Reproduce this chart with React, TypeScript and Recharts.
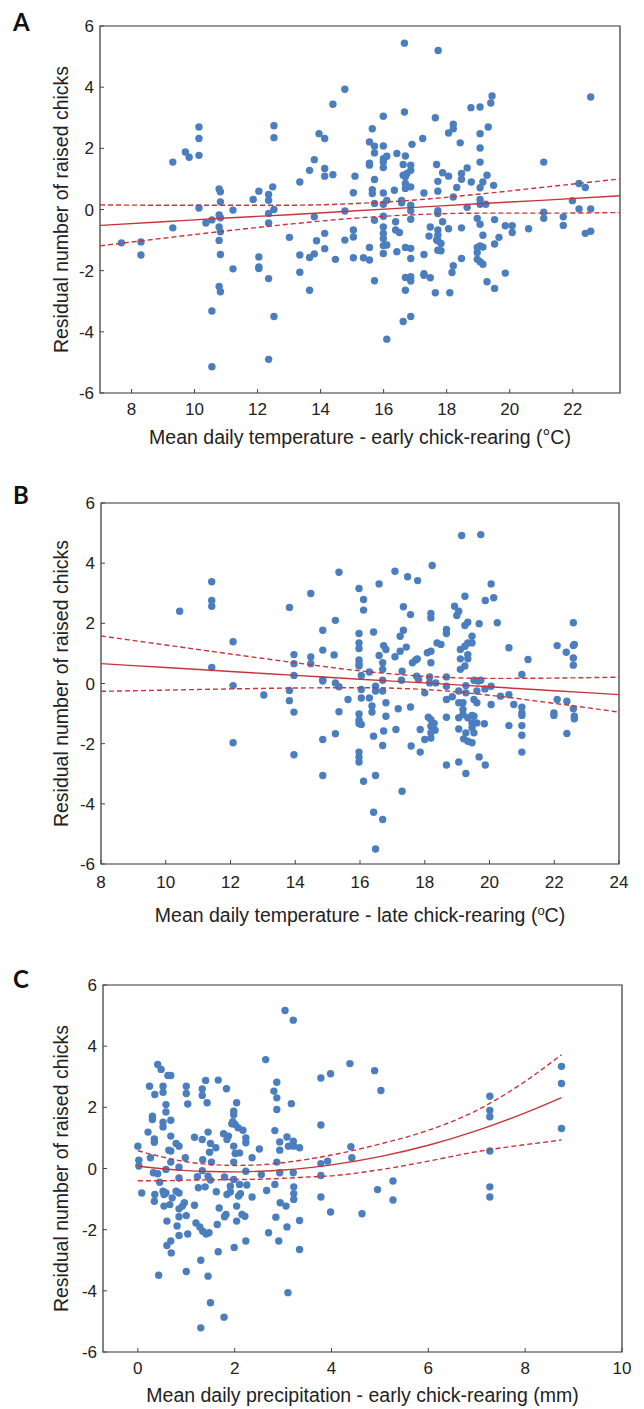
import React from "react";
import { ScatterChart, Scatter, XAxis, YAxis, ReferenceArea, Label } from "recharts";

const DOT = "#4a7ebf";
const RED = "#c9343b";
const INK = "#222";
const FONT = "'Liberation Sans', Arial, sans-serif";

const yTicks = [-6, -4, -2, 0, 2, 4, 6];
const earlyTempTicks = [8, 10, 12, 14, 16, 18, 20, 22];
const lateTempTicks = [8, 10, 12, 14, 16, 18, 20, 22, 24];
const precipTicks = [0, 2, 4, 6, 8, 10];

// panel A: mean daily temperature, early chick-rearing
const earlyTempPoints: [number, number][] = [
  [7.68, -1.09], [8.3, -1.06], [8.3, -1.49], [9.31, 1.55], [9.31, -0.6], [9.71, 1.88], [9.83, 1.71],
  [10.14, 2.7], [10.14, 2.32], [10.14, 1.77], [10.14, 0.05], [10.36, -0.44], [10.55, -0.34], [10.55, -3.32],
  [10.55, -5.14], [10.78, 0.67], [10.82, 0.58], [10.82, 0.25], [10.78, -0.18], [10.82, -0.27], [10.78, -0.57],
  [10.82, -0.73], [10.78, -1.01], [10.82, -1.47], [10.78, -2.52], [10.82, -2.69], [11.22, -0.02], [11.22, -1.94],
  [11.86, 0.33], [12.04, 0.6], [12.04, -1.55], [12.04, -1.88], [12.04, -1.93], [12.35, 0.49], [12.35, 0.3],
  [12.35, -0.13], [12.35, -0.44], [12.35, -2.26], [12.35, -4.9], [12.48, 0.74], [12.52, 2.74], [12.52, 2.35],
  [12.52, 0], [12.52, -3.5], [13.01, -0.91], [13.34, 0.9], [13.34, -1.49], [13.34, -2.05], [13.65, 1.28],
  [13.65, -1.57], [13.65, -2.64], [13.8, 1.63], [13.8, -0.24], [13.8, -1.45], [13.87, -1.02], [13.95, 2.48],
  [14.13, 2.32], [14.13, 1.34], [14.13, 1.09], [14.13, -0.78], [14.13, -1.28], [14.39, 1.14], [14.39, 3.44],
  [14.47, -1.63], [14.77, 3.93], [14.77, -0.05], [14.77, -1.0], [15.04, 0.55], [15.04, -0.67], [15.04, -0.9],
  [15.04, -1.58], [15.09, 1.09], [15.36, -1.58], [15.55, 2.21], [15.55, 1.51], [15.55, 1.45], [15.55, -1.24],
  [15.55, -1.65], [15.64, 2.64], [15.64, 0.65], [15.64, 0.52], [15.71, 0.98], [15.71, 2.07], [15.71, 1.85],
  [15.71, 0.2], [15.71, -0.35], [15.71, -2.33], [15.99, 3.05], [15.99, 2.08], [15.99, 1.66], [15.99, 1.55],
  [15.99, 1.37], [15.99, 0.54], [15.99, 0.17], [15.99, -0.22], [15.99, -0.57], [15.99, -0.78], [15.99, -0.95],
  [15.99, -1.18], [15.99, -1.44], [16.1, 1.74], [16.1, 0.3], [16.1, -1.16], [16.1, -4.24], [16.34, 0.63],
  [16.38, -0.4], [16.38, -0.67], [16.42, 1.83], [16.42, -1.38], [16.5, -0.75], [16.57, 0.3], [16.57, 0.22],
  [16.62, 1.47], [16.62, 1.12], [16.62, -3.66], [16.66, 5.44], [16.66, 3.19], [16.69, 1.75], [16.69, 1.07],
  [16.69, 0.85], [16.69, 0.69], [16.69, -1.24], [16.69, -2.22], [16.69, -2.64], [16.74, 1.18], [16.86, 0.74],
  [16.86, 1.45], [16.86, 1.28], [16.86, 0.14], [16.86, -0.04], [16.86, -0.32], [16.86, -1.27], [16.86, -1.6],
  [16.86, -2.2], [16.86, -2.34], [16.86, -3.5], [16.9, 2.13], [17.24, 2.32], [17.28, 0.54], [17.28, -1.47],
  [17.28, -2.1], [17.28, -2.15], [17.44, -0.87], [17.48, -0.57], [17.48, -2.23], [17.64, 3.0], [17.68, 1.47],
  [17.68, -1.0], [17.64, -2.72], [17.72, 0.92], [17.72, 0.6], [17.72, -0.04], [17.72, -0.13], [17.72, -0.67],
  [17.72, -0.84], [17.72, -1.02], [17.72, -1.33], [17.73, 5.2], [17.82, -1.11], [17.82, -1.35], [17.87, 1.2],
  [17.87, -0.4], [18.06, 2.5], [18.06, 1.09], [18.06, -0.63], [18.1, -2.72], [18.21, 2.79], [18.21, 2.64],
  [18.21, 0.41], [18.21, -1.84], [18.17, -2.06], [18.32, 0.72], [18.43, 2.18], [18.47, 1.18], [18.47, 0.99],
  [18.47, -0.6], [18.47, -1.6], [18.65, 1.36], [18.65, 0.07], [18.77, 3.33], [18.78, 0.9], [19.06, 3.35],
  [19.06, 2.48], [19.06, 2.01], [19.06, 1.55], [19.06, 0.71], [19.06, 0.33], [19.06, 0.17], [18.97, -0.29],
  [18.97, -1.24], [18.97, -1.41], [18.97, -1.63], [19.06, -0.48], [19.06, -1.19], [19.06, -1.71], [19.15, 0.9],
  [19.15, -0.84], [19.15, -1.23], [19.15, -1.79], [19.24, 0.17], [19.28, 1.12], [19.28, -2.36], [19.32, 2.7],
  [19.4, 3.48], [19.44, 3.71], [19.49, 0.79], [19.52, -0.33], [19.52, -1.13], [19.52, -2.58], [19.66, -0.91],
  [19.86, -2.08], [19.86, -0.53], [20.08, -0.53], [20.08, -0.75], [20.6, -0.63], [21.08, 1.55], [21.08, -0.09],
  [21.08, -0.29], [21.7, -0.24], [21.7, -0.52], [21.99, 0.29], [22.2, 0.85], [22.2, 0.02], [22.4, 0.72],
  [22.4, -0.78], [22.57, 3.68], [22.57, 0.02], [22.57, -0.71],
];
const earlyTempFitX = [7, 9, 11, 13, 15, 17, 19, 21, 23.5];
const earlyTempFit = [-0.52, -0.4, -0.28, -0.17, -0.05, 0.07, 0.19, 0.3, 0.45];
const earlyTempUpper = [0.15, 0.14, 0.14, 0.14, 0.19, 0.31, 0.5, 0.72, 1.0];
const earlyTempLower = [-1.19, -0.94, -0.7, -0.48, -0.29, -0.17, -0.12, -0.12, -0.1];

// panel B: mean daily temperature, late chick-rearing
const lateTempPoints: [number, number][] = [
  [10.43, 2.4], [11.42, 3.38], [11.42, 2.76], [11.42, 2.57], [11.42, 0.53], [12.08, 1.39], [12.08, -0.07],
  [12.08, -1.97], [13.03, -0.38], [13.82, 2.53], [13.82, -0.23], [13.82, -0.57], [13.96, 0.96], [13.96, 0.66],
  [13.96, 0.27], [13.96, -0.95], [13.96, -2.37], [14.48, 2.99], [14.48, 0.88], [14.48, 0.66], [14.85, 1.77],
  [14.85, 1.11], [14.85, 0.13], [14.85, 0.08], [14.85, -1.86], [14.85, -3.06], [15.2, 0.95], [15.24, 2.1],
  [15.24, 0.02], [15.24, -1.67], [15.35, 3.7], [15.35, -0.11], [15.35, -0.94], [15.63, -0.53], [15.97, 3.16],
  [15.97, 1.66], [15.97, 1.35], [15.97, 1.16], [15.97, 0.78], [15.97, 0.66], [15.97, 0.58], [15.97, -1.01],
  [15.97, -1.22], [15.97, -1.33], [15.97, -2.28], [15.97, -2.44], [15.97, -2.61], [16.04, 0.27], [16.04, -0.2],
  [16.04, -0.48], [16.11, 2.79], [16.11, 2.44], [16.11, -3.25], [16.04, -1.36], [16.29, 0.38], [16.29, -0.48],
  [16.37, -0.95], [16.37, -0.75], [16.42, 1.71], [16.42, -1.75], [16.42, -4.28], [16.48, -0.09], [16.48, -0.25],
  [16.48, -3.06], [16.48, -5.5], [16.59, 3.31], [16.59, 0.93], [16.7, 0.69], [16.7, 0.47], [16.7, 0.11],
  [16.7, -0.25], [16.7, -2.06], [16.7, -4.52], [16.73, 1.26], [16.73, -1.58], [16.8, 1.13], [16.8, -0.64],
  [16.8, -1.09], [17.08, 0.89], [17.08, 3.73], [17.11, -1.53], [17.18, -0.84], [17.24, 1.07], [17.24, 1.57],
  [17.28, 0.11], [17.3, 0.41], [17.3, -3.58], [17.34, 2.55], [17.34, 1.77], [17.43, 1.21], [17.47, 3.55],
  [17.56, 2.29], [17.56, -0.78], [17.58, -2.08], [17.62, 0.69], [17.72, 0.78], [17.77, 0.82], [17.78, 3.42],
  [17.75, 0.24], [17.81, 0.13], [17.86, -2.28], [17.86, -1.53], [18.0, -0.31], [18.0, -1.86], [18.08, 1.02],
  [18.11, -1.12], [18.15, 0.22], [18.15, 0.02], [18.19, 2.33], [18.19, 2.18], [18.19, 1.07], [18.19, 0.69],
  [18.19, -1.2], [18.19, -1.42], [18.19, -1.64], [18.19, -1.81], [18.23, 3.92], [18.29, -1.33], [18.32, -1.55],
  [18.34, 0.02], [18.38, 1.35], [18.5, 1.3], [18.67, 1.8], [18.67, 1.66], [18.67, 0.22], [18.67, -0.09],
  [18.67, -0.53], [18.67, -1.12], [18.67, -2.71], [18.85, -0.44], [18.92, 2.57], [18.99, 2.26], [19.05, 2.4],
  [19.05, -0.25], [19.05, -0.64], [19.05, -1.14], [19.05, -1.51], [19.05, -2.61], [19.1, 1.13], [19.1, 0.82],
  [19.1, 0.47], [19.14, 4.92], [19.18, -0.64], [19.18, -0.86], [19.18, -1.03], [19.2, -1.84], [19.24, 2.9],
  [19.24, 1.93], [19.24, 1.24], [19.24, 0.58], [19.27, -0.07], [19.27, -0.31], [19.27, -1.64], [19.27, -2.99],
  [19.33, 2.04], [19.33, 1.35], [19.33, 0.96], [19.33, 0.82], [19.33, -1.14], [19.33, -1.92], [19.46, 1.57],
  [19.46, 1.35], [19.46, -1.06], [19.46, -1.31], [19.46, -1.47], [19.46, -1.97], [19.52, 0.11], [19.52, -0.53],
  [19.52, -1.09], [19.52, -1.64], [19.61, -0.25], [19.61, -0.64], [19.61, -1.31], [19.65, 0.08], [19.68, 1.99],
  [19.68, -2.44], [19.73, 4.95], [19.73, 0.11], [19.84, -1.34], [19.86, -0.18], [19.87, 2.76], [19.87, -2.71],
  [20.05, 3.31], [20.05, -0.09], [20.05, -0.7], [20.13, 2.85], [20.24, 2.02], [20.34, -0.42], [20.6, 1.19],
  [20.6, -0.37], [20.6, -1.4], [20.75, -0.7], [21.0, 0.3], [21.0, -0.79], [21.0, -0.98], [21.0, -1.06],
  [21.0, -1.4], [21.0, -1.72], [21.0, -2.28], [21.19, 0.8], [21.99, -0.98], [21.99, -1.06], [22.09, 1.26],
  [22.09, -0.53], [22.37, 1.04], [22.39, -0.59], [22.39, -1.66], [22.59, 2.02], [22.59, 1.26], [22.59, 0.85],
  [22.59, 0.61], [22.59, -0.84], [22.62, -1.09], [22.62, -1.17], [22.62, 1.3],
];
const lateTempFitX = [8, 10, 12, 14, 16, 18, 20, 22, 24];
const lateTempFit = [0.66, 0.53, 0.4, 0.27, 0.14, 0.02, -0.11, -0.24, -0.37];
const lateTempUpper = [1.58, 1.28, 0.98, 0.69, 0.42, 0.24, 0.17, 0.18, 0.21];
const lateTempLower = [-0.26, -0.22, -0.18, -0.15, -0.14, -0.2, -0.39, -0.66, -0.95];

// panel C: mean daily precipitation, early chick-rearing
const precipPoints: [number, number][] = [
  [0.0, 0.73], [0.02, 0.27], [0.02, 0.08], [0.08, -0.8], [0.21, 1.19], [0.24, 2.69], [0.26, 0.35], [0.3, 1.71],
  [0.3, 1.6], [0.32, -0.14], [0.34, 0.86], [0.34, 0.97], [0.35, 2.42], [0.35, -0.85], [0.34, -1.07], [0.41, 3.4],
  [0.41, -0.17], [0.43, -3.49], [0.45, -0.45], [0.48, 3.24], [0.52, 2.69], [0.52, 2.49], [0.52, 1.51], [0.52, 1.36],
  [0.52, -0.74], [0.54, -0.85], [0.54, -1.23], [0.58, 2.09], [0.58, 1.85], [0.58, -0.03], [0.58, -0.8],
  [0.6, -1.72], [0.6, -2.52], [0.62, 3.04], [0.64, 0.6], [0.66, -1.18], [0.68, 1.58], [0.68, 3.04], [0.68, 0.57],
  [0.68, 0.21], [0.68, 1.06], [0.68, -2.37], [0.69, -2.76], [0.71, -0.96], [0.79, 0.82], [0.79, -0.74],
  [0.81, -1.88], [0.85, 0.73], [0.85, 0.04], [0.85, -0.31], [0.85, -0.8], [0.85, -1.32], [0.85, -1.58],
  [0.85, -2.19], [0.92, -1.23], [0.96, -1.12], [0.98, 0.35], [1.0, 2.69], [1.0, 2.45], [1.0, -1.54],
  [1.0, -3.37], [1.03, 2.11], [1.03, -2.14], [1.17, 1.02], [1.17, -1.2], [1.2, -1.78], [1.23, -0.27],
  [1.25, -0.63], [1.28, -1.91], [1.3, -3.0], [1.3, -5.21], [1.33, 2.6], [1.33, 2.39], [1.33, 0.95],
  [1.33, -0.07], [1.34, -2.05], [1.34, 0.29], [1.39, -0.6], [1.41, -2.14], [1.4, 2.88], [1.43, 2.15],
  [1.45, 1.19], [1.45, -0.25], [1.45, -3.52], [1.47, -2.1], [1.48, 0.53], [1.5, 0.82], [1.5, -0.38],
  [1.5, -4.39], [1.52, 0.21], [1.61, 0.68], [1.62, -0.76], [1.64, -1.83], [1.66, 2.89], [1.66, -2.72],
  [1.68, -1.29], [1.77, 1.14], [1.78, -4.86], [1.79, -0.28], [1.79, -1.58], [1.82, -1.5], [1.83, 2.61],
  [1.84, 0.95], [1.84, -0.85], [1.87, 1.06], [1.91, -0.77], [1.91, -0.58], [1.94, 1.46], [1.96, 1.53],
  [1.98, 1.76], [1.98, 1.87], [1.98, 0.73], [1.98, 0.21], [1.98, -0.36], [1.99, -2.58], [2.01, 1.44],
  [2.01, 0.49], [2.04, 2.15], [2.04, -1.23], [2.04, -1.72], [2.07, 1.33], [2.08, -0.9], [2.1, 0.51],
  [2.1, -0.52], [2.12, -0.82], [2.15, -1.5], [2.17, 1.25], [2.21, -1.56], [2.23, 1.0], [2.23, 0.84],
  [2.23, -0.09], [2.23, -2.37], [2.25, -0.54], [2.36, 0.35], [2.36, -0.93], [2.51, 0.64], [2.55, -0.2],
  [2.64, 3.56], [2.66, -0.72], [2.7, -2.1], [2.81, 2.53], [2.83, 1.24], [2.83, -0.52], [2.85, -1.59],
  [2.87, 2.82], [2.87, 2.31], [2.87, 1.93], [2.87, 0.21], [2.91, -2.37], [2.93, 0.87], [2.93, 0.6],
  [2.93, -0.14], [2.94, -1.12], [3.04, 5.17], [3.06, -1.23], [3.08, 1.03], [3.08, -1.91], [3.1, -4.06],
  [3.11, 0.73], [3.17, 2.12], [3.21, 4.85], [3.21, 0.89], [3.21, -0.14], [3.22, 0.73], [3.22, -0.6],
  [3.22, -0.82], [3.22, -1.01], [3.34, 0.68], [3.34, -1.7], [3.34, -2.65], [3.78, 2.96], [3.78, 1.42],
  [3.78, 0.16], [3.78, -0.23], [3.78, -0.93], [3.92, 0.24], [3.98, 3.1], [3.98, -1.42], [4.38, 3.43],
  [4.4, 0.71], [4.42, 0.35], [4.63, -1.48], [4.89, 3.2], [4.95, -0.69], [5.02, 2.55], [5.27, -0.41],
  [5.27, -1.03], [7.27, 2.36], [7.27, 1.9], [7.27, 1.69], [7.27, 0.57], [7.27, -0.6], [7.27, -0.93],
  [8.75, 3.34], [8.75, 2.78], [8.75, 1.31],
];
const precipFitX = [0, 0.5, 1, 1.5, 2, 2.5, 3, 3.5, 4, 5, 6, 7, 8, 8.75];
const precipFit = [0.08, -0.01, -0.07, -0.1, -0.11, -0.09, -0.05, 0.02, 0.12, 0.39, 0.76, 1.24, 1.82, 2.32];
const precipUpper = [0.58, 0.38, 0.22, 0.13, 0.1, 0.12, 0.19, 0.3, 0.44, 0.8, 1.25, 1.9, 2.85, 3.72];
const precipLower = [-0.4, -0.4, -0.38, -0.37, -0.36, -0.35, -0.32, -0.28, -0.24, -0.04, 0.24, 0.55, 0.78, 0.93];

const toXY = (pts: [number, number][]) => pts.map(([x, y]) => ({ x, y }));
const toLine = (xs: number[], ys: number[]) => xs.map((x, i) => ({ x, y: ys[i] }));

const Dot = (p: any) => <circle cx={p.cx} cy={p.cy} r={3.7} fill={DOT} />;
const NoDot = () => <g />;

const XTick = ({ x, y, payload, gap }: any) => (
  <g>
    <line x1={x} x2={x} y1={y - gap} y2={y - gap - 4} stroke="#444" />
    <text x={x} y={y} dy="0.71em" textAnchor="middle" fontSize={17} fill={INK} fontFamily={FONT}>
      {payload.value}
    </text>
  </g>
);

const YTick = ({ x, y, payload }: any) => (
  <g>
    <line x1={x + 6} x2={x + 10} y1={y} y2={y} stroke="#444" />
    <text x={x} y={y} dy="0.36em" textAnchor="end" fontSize={17} fill={INK} fontFamily={FONT}>
      {payload.value}
    </text>
  </g>
);

type PanelProps = {
  letter: string;
  letterTop: number;
  height: number;
  plotTop: number;
  plotBottom: number;
  plotLeft: number;
  plotRight: number;
  xDomain: [number, number];
  xTicks: number[];
  tickGap: number;
  titleGap: number;
  xTitle: React.ReactNode;
  points: [number, number][];
  fitX: number[];
  fit: number[];
  upper: number[];
  lower: number[];
};

function Panel(p: PanelProps) {
  const lineProps = { stroke: RED, strokeWidth: 1.4 };
  const dashProps = { stroke: RED, strokeWidth: 1.4, strokeDasharray: "5 3" };
  return (
    <div style={{ position: "relative", width: 644, height: p.height }}>
      <div
        style={{
          position: "absolute",
          left: 13,
          top: p.letterTop - 5,
          fontFamily: "Lato, 'Open Sans', sans-serif",
          fontWeight: 700,
          fontSize: 24,
          lineHeight: 1,
          color: "#111",
        }}
      >
        {p.letter}
      </div>
      <ScatterChart
        width={644}
        height={p.height}
        margin={{ top: p.plotTop, right: 644 - p.plotRight, bottom: 0, left: 0 }}
      >
        <XAxis
          type="number"
          dataKey="x"
          domain={p.xDomain}
          ticks={p.xTicks}
          interval={0}
          allowDataOverflow
          height={p.height - p.plotBottom}
          axisLine={false}
          tickLine={false}
          tickSize={0}
          tickMargin={p.tickGap}
          tick={<XTick gap={p.tickGap} />}
        >
          <Label
            content={({ viewBox }: any) => (
              <text
                x={viewBox.x + viewBox.width / 2}
                y={viewBox.y + p.titleGap}
                dy="0.36em"
                textAnchor="middle"
                fontSize={19.5}
                fill={INK}
                fontFamily={FONT}
              >
                {p.xTitle}
              </text>
            )}
          />
        </XAxis>
        <YAxis
          type="number"
          dataKey="y"
          domain={[-6, 6]}
          ticks={yTicks}
          interval={0}
          allowDataOverflow
          width={p.plotLeft}
          axisLine={false}
          tickLine={false}
          tickSize={0}
          tickMargin={6}
          tick={<YTick />}
        >
          <Label
            content={({ viewBox }: any) => (
              <text
                transform={`translate(${viewBox.x + 61}, ${viewBox.y + viewBox.height / 2}) rotate(-90)`}
                dy="0.36em"
                textAnchor="middle"
                fontSize={19.5}
                fill={INK}
                fontFamily={FONT}
              >
                Residual number of raised chicks
              </text>
            )}
          />
        </YAxis>
        <ReferenceArea
          x1={p.xDomain[0]}
          x2={p.xDomain[1]}
          y1={-6}
          y2={6}
          fill="none"
          stroke="#333"
          strokeWidth={1.2}
          fillOpacity={0}
        />
        <Scatter data={toXY(p.points)} shape={Dot} isAnimationActive={false} />
        <Scatter
          data={toLine(p.fitX, p.upper)}
          line={dashProps}
          lineJointType="monotoneX"
          shape={NoDot}
          isAnimationActive={false}
        />
        <Scatter
          data={toLine(p.fitX, p.lower)}
          line={dashProps}
          lineJointType="monotoneX"
          shape={NoDot}
          isAnimationActive={false}
        />
        <Scatter
          data={toLine(p.fitX, p.fit)}
          line={lineProps}
          lineJointType="monotoneX"
          shape={NoDot}
          isAnimationActive={false}
        />
      </ScatterChart>
    </div>
  );
}

export default function App() {
  return (
    <div style={{ position: "absolute", left: 0, top: 0, width: 644, height: 1409, background: "#fff" }}>
      <Panel
        letter="A"
        letterTop={15}
        height={470}
        plotTop={26}
        plotBottom={393}
        plotLeft={100}
        plotRight={620}
        xDomain={[7, 23.5]}
        xTicks={earlyTempTicks}
        tickGap={10}
        titleGap={44}
        xTitle="Mean daily temperature - early chick-rearing (°C)"
        points={earlyTempPoints}
        fitX={earlyTempFitX}
        fit={earlyTempFit}
        upper={earlyTempUpper}
        lower={earlyTempLower}
      />
      <Panel
        letter="B"
        letterTop={18}
        height={470}
        plotTop={33}
        plotBottom={394}
        plotLeft={101}
        plotRight={619}
        xDomain={[8, 24]}
        xTicks={lateTempTicks}
        tickGap={12}
        titleGap={51}
        xTitle={
          <>
            Mean daily temperature - late chick-rearing (
            <tspan fontSize={13} dy="-7">o</tspan>
            <tspan dy="7">C)</tspan>
          </>
        }
        points={lateTempPoints}
        fitX={lateTempFitX}
        fit={lateTempFit}
        upper={lateTempUpper}
        lower={lateTempLower}
      />
      <Panel
        letter="C"
        letterTop={32}
        height={469}
        plotTop={45}
        plotBottom={412}
        plotLeft={103}
        plotRight={622}
        xDomain={[-0.72, 10]}
        xTicks={precipTicks}
        tickGap={10}
        titleGap={43}
        xTitle="Mean daily precipitation - early chick-rearing (mm)"
        points={precipPoints}
        fitX={precipFitX}
        fit={precipFit}
        upper={precipUpper}
        lower={precipLower}
      />
    </div>
  );
}
